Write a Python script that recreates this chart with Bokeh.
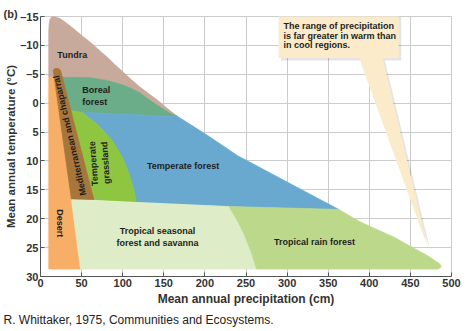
import math
from bokeh.plotting import figure
from bokeh.models import Range1d, FixedTicker, Title
from bokeh.core.properties import value
from bokeh.embed import file_html
from bokeh.resources import INLINE

# ---- axis ticks ----
x_ticks = [0, 50, 100, 150, 200, 250, 300, 350, 400, 450, 500]
y_ticks = [-15, -10, -5, 0, 5, 10, 15, 20, 25, 30]

# ---- biome boundaries (precipitation cm, temperature C) ----
tundra_cm = [10.1, 10.1, 10.6, 11.8, 14.0, 17.0, 20.5, 24.3, 32, 40.2, 50, 60.9, 71, 81.6, 91, 101, 111,
             121.7, 132, 142.4, 155, 166.8, 158.3, 142.4, 132, 121.7, 111, 101, 81.6, 60.9, 15.8]
tundra_c = [-4.5, -12.5, -13.8, -14.6, -15.0, -15.0, -14.8, -14.6, -13.8, -12.9, -11.7, -10.5, -9.2, -7.9, -6.6, -5.3, -4.0,
            -2.7, -1.6, -0.5, 1.0, 2.3, 1.8, 0.4, -0.6, -1.7, -2.5, -3.1, -3.9, -4.4, -4.5]

boreal_cm = [15.8, 60.9, 81.6, 101, 111, 121.7, 132, 142.4, 158.3, 166.8, 140, 100, 50.7, 36.9]
boreal_c = [-4.5, -4.4, -3.9, -3.1, -2.5, -1.7, -0.6, 0.4, 1.8, 2.3, 2.2, 1.9, 1.6, 1.3]

temp_forest_cm = [50.7, 100, 140, 166.8, 203.3, 239.8, 362.8, 229.2, 134, 116.5, 113.6, 107.5, 99.5, 87.3, 71]
temp_forest_c = [1.6, 1.9, 2.2, 2.3, 5.6, 9.1, 18.4, 17.9, 17.2, 17.1, 15.1, 12.2, 9.4, 6.5, 3.9]

grassland_cm = [36.9, 50.7, 71, 87.3, 99.5, 107.5, 113.6, 116.5, 64.9]
grassland_c = [1.3, 1.6, 3.9, 6.5, 9.4, 12.2, 15.1, 17.1, 16.7]

desert_cm = [10.1, 16.7, 37.7, 48.7, 10.1]
desert_c = [-4.5, -4.5, 16.7, 28.7, 28.7]

mediterranean_cm = [15.5, 17.5, 22.0, 24.3, 64.9, 37.7]
mediterranean_c = [-5.7, -6.0, -6.0, -5.7, 16.7, 16.7]

trop_seasonal_cm = [37.7, 229.2, 239.4, 247.5, 255.6, 263, 48.7]
trop_seasonal_c = [16.7, 17.9, 20.3, 22.6, 25.5, 28.7, 28.7]

rainforest_cm = [229.2, 362.8, 389.6, 430.1, 470.8, 480.5, 485.5, 487.5, 486.5, 483.5, 263, 255.6, 247.5, 239.4]
rainforest_c = [17.9, 18.4, 20.6, 23.2, 26.4, 27.3, 27.8, 28.2, 28.5, 28.7, 28.7, 25.5, 22.6, 20.3]

# ---- callout ----
callout_lines = ["The range of precipitation", "is far greater in warm than", "in cool regions."]
callout_box_cm = [289.7, 435.8, 435.8, 289.7]
callout_box_c = [-15.3, -15.3, -7.8, -7.8]
callout_ptr_cm = [387.5, 416.0, 471.1]
callout_ptr_c = [-7.8, -7.8, 25.0]

biome_colors = {
    "tundra": "#c7aa9b",
    "boreal": "#6aad88",
    "temp_forest": "#6aa9cf",
    "grassland": "#8ec641",
    "desert": "#f7ae66",
    "mediterranean": "#a7763b",
    "trop_seasonal": "#deecc7",
    "rainforest": "#bcd98b",
}

FONT = "Liberation Sans"

p = figure(width=475, height=331, output_backend="svg", toolbar_location=None,
           x_range=Range1d(0, 500), y_range=Range1d(30, -15),
           min_border_left=40, min_border_right=24, min_border_top=16, min_border_bottom=55,
           background_fill_color="white", border_fill_color="white")

shapes = [
    ("tundra", tundra_cm, tundra_c),
    ("boreal", boreal_cm, boreal_c),
    ("temp_forest", temp_forest_cm, temp_forest_c),
    ("grassland", grassland_cm, grassland_c),
    ("desert", desert_cm, desert_c),
    ("mediterranean", mediterranean_cm, mediterranean_c),
    ("trop_seasonal", trop_seasonal_cm, trop_seasonal_c),
    ("rainforest", rainforest_cm, rainforest_c),
]
for name, xs, ys in shapes:
    col = biome_colors[name]
    p.patch(xs, ys, fill_color=col, line_color=col, line_width=0.8)

# callout shadow + body
sdx, sdy = 3.0, 0.4
p.patch([v + sdx for v in callout_ptr_cm], [v + sdy for v in callout_ptr_c],
        fill_color="#000000", fill_alpha=0.10, line_color=None)
p.patch([v + sdx for v in callout_box_cm], [v + sdy for v in callout_box_c],
        fill_color="#000000", fill_alpha=0.10, line_color=None)
p.patch(callout_ptr_cm, callout_ptr_c, fill_color="#fcebcb", line_color=None)
p.patch(callout_box_cm, callout_box_c, fill_color="#fcebcb", line_color=None)

p.text(x=[295.5] * 3, y=[-13.4, -11.7, -10.0], text=callout_lines,
       text_font=value(FONT), text_font_style="bold", text_font_size="9px",
       text_color="#231f20", text_align="left", text_baseline="middle")

# biome labels
def blabel(x, y, t, angle=0.0, align="center"):
    p.text(x=[x], y=[y], text=[t], angle=angle, text_font=value(FONT), text_font_style="bold",
           text_font_size="9px", text_color="#1e1e1e", text_align=align, text_baseline="middle",
           text_line_height=1.2)

blabel(38.6, -8.4, "Tundra")
blabel(50.7, -1.3, "Boreal\nforest", align="left")
blabel(173.5, 10.9, "Temperate forest")
blabel(142.4, 23.2, "Tropical seasonal\nforest and savanna")
blabel(333.2, 24.1, "Tropical rain forest")
blabel(35.5, 5.6, "Mediterranean and chaparral", angle=math.radians(102.9))
blabel(71.8, 10.4, "Temperate\ngrassland", angle=math.radians(94))
blabel(24.3, 20.8, "Desert", angle=math.radians(-90))

# axes styling
for ax in (p.xaxis[0], p.yaxis[0]):
    ax.axis_line_color = "#555555"
    ax.major_tick_line_color = "#555555"
    ax.major_tick_in = 4
    ax.major_tick_out = 0
    ax.minor_tick_line_color = None
    ax.major_label_text_font = FONT
    ax.major_label_text_font_style = "bold"
    ax.major_label_text_font_size = "11px"
    ax.major_label_text_color = "#333333"
    ax.axis_label_text_font = FONT
    ax.axis_label_text_font_style = "bold"
    ax.axis_label_text_font_size = "12px"
    ax.axis_label_text_color = "#333333"

p.xaxis.ticker = FixedTicker(ticks=x_ticks)
p.yaxis.ticker = FixedTicker(ticks=y_ticks)
p.xaxis.major_label_standoff = 2
p.yaxis.major_label_standoff = 2
p.yaxis.major_label_overrides = {-15: "\u201315", -10: "\u201310", -5: "\u20135"}

p.xaxis.axis_label = "Mean annual precipitation (cm)"
p.xaxis.axis_label_standoff = 2
p.yaxis.axis_label = "Mean annual temperature (\u00b0C)"
p.yaxis.axis_label_standoff = 0
p.yaxis.axis_label_text_font_size = "11.5px"

p.xgrid.grid_line_color = "#cccccc"
p.ygrid.grid_line_color = "#cccccc"
p.outline_line_color = "#cccccc"

p.add_layout(Title(text="(b)", align="left", offset=-37, standoff=-6, text_font=FONT,
                   text_font_style="bold", text_font_size="11px", text_color="#333333"), "above")
p.add_layout(Title(text="R. Whittaker, 1975, Communities and Ecosystems.", align="left", offset=-37,
                   standoff=4, text_font=FONT, text_font_style="normal", text_font_size="12px",
                   text_color="#222222"), "below")

open("out.html", "w").write(file_html(p, INLINE))
